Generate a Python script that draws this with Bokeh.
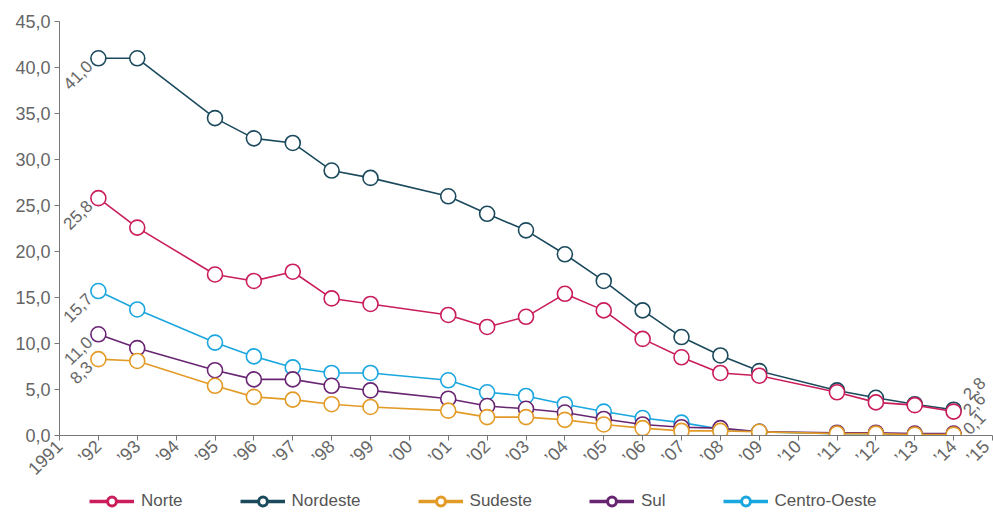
import math
from bokeh.plotting import figure
from bokeh.layouts import column
from bokeh.models import FixedTicker, Legend, LegendItem, ColumnDataSource, Range1d
from bokeh.core.properties import value
from bokeh.embed import file_html
from bokeh.resources import INLINE

years = [1992, 1993, 1995, 1996, 1997, 1998, 1999, 2001, 2002, 2003,
         2004, 2005, 2006, 2007, 2008, 2009, 2011, 2012, 2013, 2014]

norte = [25.8, 22.6, 17.5, 16.8, 17.8, 14.9, 14.3, 13.1, 11.8, 12.9,
         15.4, 13.6, 10.5, 8.5, 6.8, 6.5, 4.7, 3.6, 3.3, 2.6]
nordeste = [41.0, 41.0, 34.5, 32.3, 31.8, 28.8, 28.0, 26.0, 24.1, 22.3,
            19.7, 16.8, 13.6, 10.7, 8.7, 7.0, 4.9, 4.1, 3.4, 2.8]
sudeste = [8.3, 8.1, 5.4, 4.2, 3.9, 3.4, 3.1, 2.7, 2.0, 2.0,
           1.7, 1.2, 0.8, 0.5, 0.5, 0.4, 0.2, 0.2, 0.1, 0.1]
sul = [11.0, 9.5, 7.1, 6.1, 6.1, 5.4, 4.9, 4.0, 3.2, 2.9,
       2.5, 1.8, 1.2, 0.9, 0.8, 0.4, 0.3, 0.3, 0.2, 0.2]
centro_oeste = [15.7, 13.7, 10.1, 8.6, 7.4, 6.8, 6.8, 6.0, 4.7, 4.3,
                3.4, 2.6, 1.9, 1.4, 0.7, 0.4, 0.2, 0.2, 0.1, 0.1]

series_names = ["Norte", "Nordeste", "Sudeste", "Sul", "Centro-Oeste"]
series_values = [norte, nordeste, sudeste, sul, centro_oeste]
series_colors = ["#c91d5c", "#1b4a5d", "#e39b27", "#682572", "#1aa6de"]

x_tick_values = list(range(1991, 2016))
x_tick_labels = ["1991", "’92", "’93", "’94", "’95", "’96", "’97", "’98", "’99", "’00",
                 "’01", "’02", "’03", "’04", "’05", "’06", "’07", "’08", "’09", "’10",
                 "’11", "’12", "’13", "’14", "’15"]
y_tick_values = [0, 5, 10, 15, 20, 25, 30, 35, 40, 45]
y_tick_labels = ["0,0", "5,0", "10,0", "15,0", "20,0", "25,0", "30,0", "35,0", "40,0", "45,0"]

# series labelled at their last point (all are labelled at the first point)
end_label_series = ["Nordeste", "Norte", "Sudeste"]
end_label_dx = [12, 12, 12]
end_label_dy = [-13, 1, -3]

FONT = "Liberation Sans"
GREY = "#666666"

p = figure(width=993, height=488, output_backend="svg", toolbar_location=None,
           x_range=Range1d(1991, 2015), y_range=Range1d(0, 45),
           min_border_left=59, min_border_right=1, min_border_top=21, min_border_bottom=51)
p.outline_line_color = None
p.xgrid.grid_line_color = None
p.ygrid.grid_line_color = None
p.background_fill_color = "white"

# axes
p.xaxis.ticker = FixedTicker(ticks=x_tick_values)
p.xaxis.major_label_overrides = {v: l for v, l in zip(x_tick_values, x_tick_labels)}
p.xaxis.major_label_orientation = math.pi / 4
p.xaxis.minor_tick_line_color = None
p.xaxis.major_tick_in = 0
p.xaxis.major_tick_out = 5
p.xaxis.axis_line_color = "#777777"
p.xaxis.major_tick_line_color = "#777777"
p.xaxis.major_label_text_font = FONT
p.xaxis.major_label_text_font_size = "18px"
p.xaxis.major_label_text_color = GREY
p.xaxis.major_label_standoff = 3

p.yaxis.ticker = FixedTicker(ticks=y_tick_values)
p.yaxis.major_label_overrides = {v: l for v, l in zip(y_tick_values, y_tick_labels)}
p.yaxis.minor_tick_line_color = None
p.yaxis.major_tick_in = 0
p.yaxis.major_tick_out = 5
p.yaxis.axis_line_color = "#777777"
p.yaxis.major_tick_line_color = "#777777"
p.yaxis.major_label_text_font = FONT
p.yaxis.major_label_text_font_size = "18px"
p.yaxis.major_label_text_color = GREY
p.yaxis.major_label_standoff = 4

draw_order = ["Nordeste", "Centro-Oeste", "Sul", "Sudeste", "Norte"]
for name in draw_order:
    i = series_names.index(name)
    color = series_colors[i]
    src = ColumnDataSource(dict(x=years, y=series_values[i]))
    p.line("x", "y", source=src, line_color=color, line_width=1.6)
    p.scatter("x", "y", source=src, size=15, marker="circle", fill_color="white",
              line_color=color, line_width=1.6)

# value labels at the first point
first_src = ColumnDataSource(dict(
    x=[years[0]] * len(series_names),
    y=[v[0] for v in series_values],
    t=[f"{v[0]:.1f}".replace(".", ",") for v in series_values]))
p.text("x", "y", text="t", source=first_src, angle=math.pi / 4,
       text_align="right", text_baseline="middle", x_offset=-9, y_offset=5,
       text_font=value(FONT), text_font_size="17px", text_color=GREY)

# value labels at the last point
last_idx = [series_names.index(n) for n in end_label_series]
last_src = ColumnDataSource(dict(
    x=[years[-1]] * len(last_idx),
    y=[series_values[i][-1] for i in last_idx],
    t=[f"{series_values[i][-1]:.1f}".replace(".", ",") for i in last_idx],
    dx=end_label_dx, dy=end_label_dy))
p.text("x", "y", text="t", source=last_src, angle=math.pi / 4,
       text_align="left", text_baseline="middle", x_offset="dx", y_offset="dy",
       text_font=value(FONT), text_font_size="17px", text_color=GREY)

# legend in its own strip below the chart (frame aligned with the chart's frame)
lf = figure(width=993, height=24, output_backend="svg", toolbar_location=None,
            x_range=Range1d(0, 1), y_range=Range1d(0, 1),
            min_border_left=59, min_border_right=1, min_border_top=0, min_border_bottom=0)
lf.axis.visible = False
lf.grid.visible = False
lf.outline_line_color = None
items = []
for i, name in enumerate(series_names):
    color = series_colors[i]
    # off-screen placeholder glyphs: only their legend swatches are seen
    lr = lf.line(x=[-5, -4], y=[-5, -5], line_color=color, line_width=3.5)
    sr = lf.scatter(x=[-5], y=[-5], marker="circle", size=11, fill_color="white",
                    line_color=color, line_width=3)
    items.append(LegendItem(label=name, renderers=[lr, sr]))
lg = Legend(items=items, location=(30, 0), orientation="horizontal",
            padding=0, margin=0, spacing=57, label_standoff=7,
            glyph_width=45, glyph_height=22, label_height=22,
            label_text_font=FONT, label_text_font_size="17px",
            label_text_color="#555555", background_fill_alpha=0,
            border_line_alpha=0)
lf.add_layout(lg, "center")

open("out.html", "w").write(file_html(column(p, lf, spacing=0), INLINE))
